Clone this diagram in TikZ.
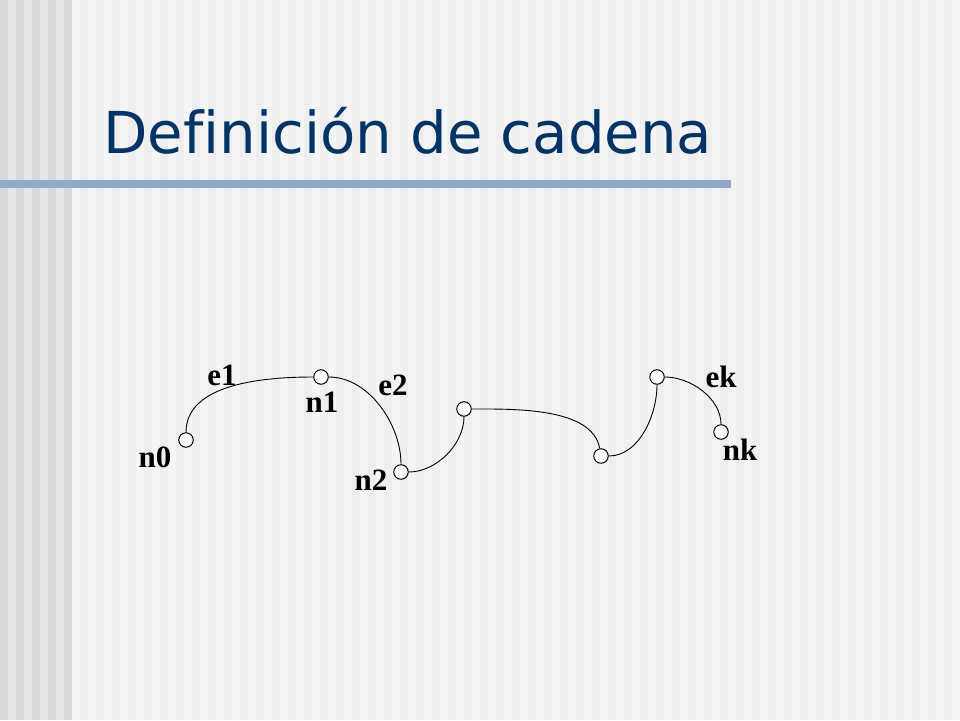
\documentclass[tikz,border=0pt]{standalone}
\usepackage{fontspec}
\setmainfont{Liberation Serif}
\newfontfamily\titlefont[Ligatures=NoCommon]{DejaVu Sans}
\definecolor{stripeA}{HTML}{DADADA}
\definecolor{stripeB}{HTML}{E7E7E7}
\definecolor{stripeC}{HTML}{F5F5F5}
\definecolor{stripeD}{HTML}{EEEEEE}
\definecolor{titleblue}{HTML}{003366}
\definecolor{rulecol}{HTML}{90A9C5}
\tikzset{
  vertex/.style={circle,draw=black,fill=white,line width=1pt,minimum size=14.5pt,inner sep=0pt},
  lab/.style={font=\fontsize{31}{33}\selectfont\bfseries,inner sep=0pt,anchor=base},
  edge/.style={line width=0.9pt,draw=black}
}
\begin{document}
\begin{tikzpicture}[x=1pt,y=-1pt]
\useasboundingbox (0,0) rectangle (960,720);
% background stripes
\fill[stripeC] (0,0) rectangle (960,720);
\foreach \i in {0,...,4} {\fill[stripeA] (16*\i,0) rectangle (16*\i+8,720);}
\foreach \i in {0,...,3} {\fill[stripeB] (16*\i+8,0) rectangle (16*\i+16,720);}
\foreach \i in {0,...,55} {\fill[stripeD] (80+16*\i,0) rectangle (88+16*\i,720);}
% title
\node[anchor=base west,inner sep=0pt,text=titleblue] (title) at (103,153)
  {\resizebox{609pt}{!}{\titlefont Definición de cadena}};
\fill[rulecol] (0,180) rectangle (731,188);
% vertices
\node[vertex] (n0) at (186,440) {};
\node[vertex] (n1) at (321,377) {};
\node[vertex] (n2) at (401,472) {};
\node[vertex] (m1) at (464,409) {};
\node[vertex] (m2) at (601,456) {};
\node[vertex] (m3) at (657,377) {};
\node[vertex] (nk) at (721,432) {};
% edges
\draw[edge] (n0) to[out=90,in=180,looseness=0.9] (n1);
\draw[edge] (n1) to[out=0,in=90,looseness=0.9] (n2);
\draw[edge] (n2) to[out=0,in=270,looseness=0.9] (m1);
\draw[edge] (m1) to[out=0,in=100,looseness=0.8] (m2);
\draw[edge] (m2) to[out=0,in=270,looseness=0.9] (m3);
\draw[edge] (m3) to[out=0,in=90,looseness=0.9] (nk);
% labels
\node[lab] (le1) at (222,385) {e1};
\node[lab] (ln1) at (322,412) {n1};
\node[lab] (le2) at (393,395) {e2};
\node[lab] (ln0) at (155,467) {n0};
\node[lab] (ln2) at (371,490) {n2};
\node[lab] (lek) at (721,387) {ek};
\node[lab] (lnk) at (740,460) {nk};
\end{tikzpicture}
\end{document}
